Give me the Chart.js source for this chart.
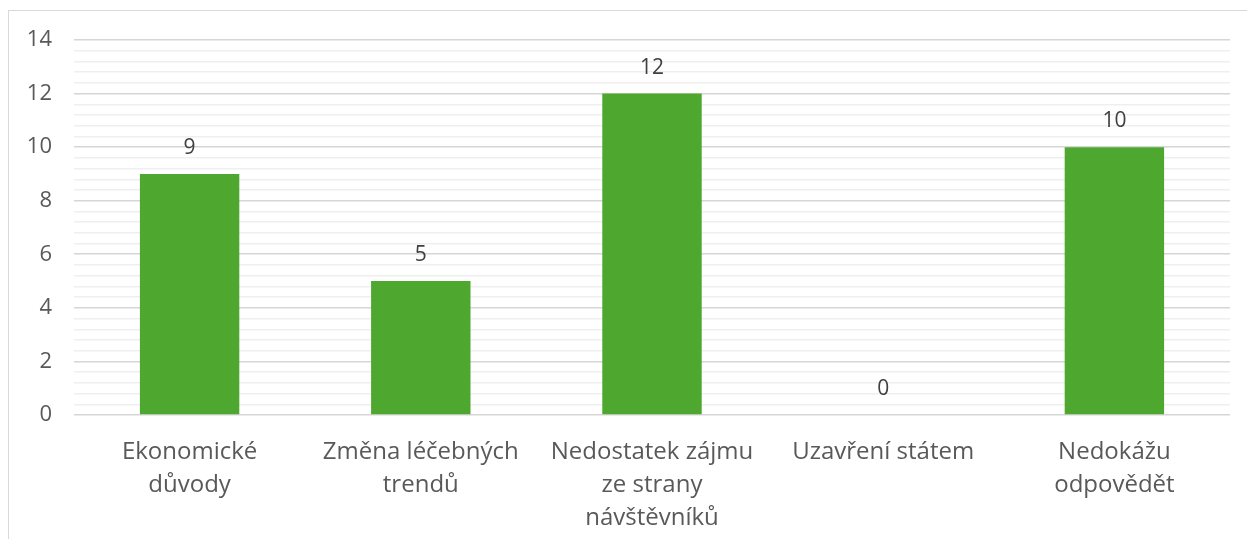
<!DOCTYPE html>
<html>
<head>
<meta charset="utf-8">
<script src="https://cdn.jsdelivr.net/npm/chart.js@4/dist/chart.umd.min.js"></script>
<style>
  html, body { margin: 0; padding: 0; background: #ffffff; }
  #wrap { position: relative; width: 1247px; height: 539px; overflow: hidden; }
  #frame { position: absolute; left: 8px; top: 10px; width: 1300px; height: 600px;
           border-left: 1.5px solid #d9d9d9; border-top: 1.5px solid #d9d9d9; pointer-events: none; }
  canvas { position: absolute; left: 0; top: 0; }
</style>
</head>
<body>
<div id="wrap">
  <canvas id="c" width="1247" height="539"></canvas>
  <div id="frame"></div>
</div>
<script>
const categories = [
  ['Ekonomické', 'důvody'],
  ['Změna léčebných', 'trendů'],
  ['Nedostatek zájmu', 'ze strany', 'návštěvníků'],
  ['Uzavření státem'],
  ['Nedokážu', 'odpovědět']
];
const values = [9, 5, 12, 0, 10];
const yMin = 0, yMax = 14, majorStep = 2, minorStep = 0.4;

const FONT = "'Open Sans', 'Noto Sans', sans-serif";

const isMajor = v => Math.abs(Math.round(v * 10) % (majorStep * 10)) === 0;

const valueLabels = {
  id: 'valueLabels',
  afterDatasetsDraw(chart) {
    const ctx = chart.ctx;
    const meta = chart.getDatasetMeta(0);
    ctx.save();
    ctx.font = "21px " + FONT;
    ctx.fillStyle = '#404040';
    ctx.textAlign = 'center';
    ctx.textBaseline = 'middle';
    meta.data.forEach((bar, i) => {
      ctx.fillText(String(chart.data.datasets[0].data[i]), bar.x, bar.y - 26);
    });
    ctx.restore();
  }
};

new Chart(document.getElementById('c'), {
  type: 'bar',
  data: {
    labels: categories,
    datasets: [{
      data: values,
      backgroundColor: '#4ea72e',
      borderWidth: 0,
      categoryPercentage: 1,
      barPercentage: 0.43
    }]
  },
  options: {
    responsive: false,
    animation: false,
    devicePixelRatio: 1,
    layout: { padding: { top: 40, right: 17, left: 0, bottom: 0 } },
    plugins: { legend: { display: false }, tooltip: { enabled: false } },
    scales: {
      x: {
        grid: { display: false, drawTicks: false },
        border: { display: false },
        ticks: {
          color: '#595959',
          font: { family: FONT, size: 24, lineHeight: 1.39 },
          padding: 20,
          maxRotation: 0,
          autoSkip: false
        },
        afterFit(scale) { scale.height = 124; }
      },
      y: {
        min: yMin,
        max: yMax,
        border: { display: false },
        grid: {
          drawTicks: false,
          color: ctx => isMajor(ctx.tick.value) ? '#d6d6d6' : '#efefef',
          lineWidth: ctx => isMajor(ctx.tick.value) ? 1.6 : 1.5
        },
        ticks: {
          stepSize: minorStep,
          autoSkip: false,
          maxTicksLimit: 200,
          color: '#595959',
          font: { family: FONT, size: 22 },
          padding: 22,
          callback: v => isMajor(v) ? String(Math.round(v)) : ''
        },
        afterFit(scale) { scale.width = 74; }
      }
    }
  },
  plugins: [valueLabels]
});
</script>
</body>
</html>
